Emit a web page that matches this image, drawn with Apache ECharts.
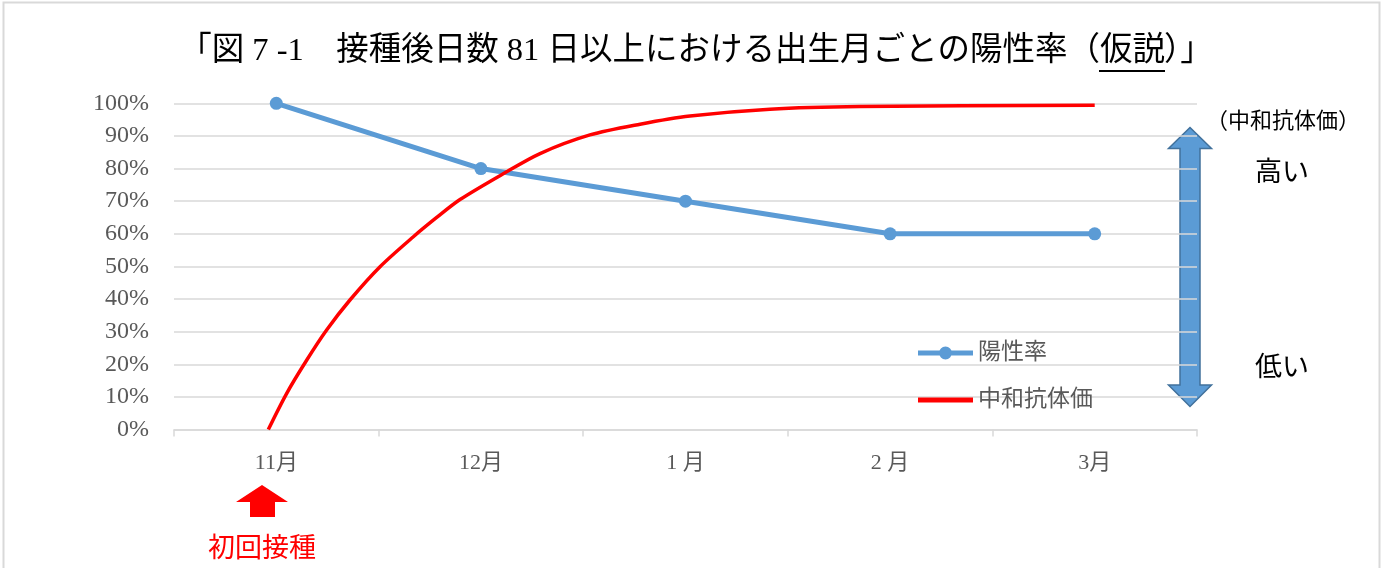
<!DOCTYPE html>
<html>
<head>
<meta charset="utf-8">
<script src="https://cdn.jsdelivr.net/npm/echarts@6/dist/echarts.min.js"></script>
<style>
  html, body { margin: 0; padding: 0; background: #ffffff; }
  #chart { width: 1384px; height: 568px; }
</style>
</head>
<body>
<div id="chart"></div>
<script>
// Birth-month categories along the horizontal axis
const months = ['11月', '12月', '1 月', '2 月', '3月'];
// Positive rate per birth month (%)
const positiveRate = [100, 80, 70, 60, 60];
// Neutralising antibody curve: position in month units (0 = 11月) and level (%)
const antibodyPos = [-0.039, 0.051, 0.149, 0.246, 0.360, 0.507, 0.670, 0.784, 0.898, 1.109, 1.289, 1.533, 1.778, 2.022, 2.413, 2.853, 4.0];
const antibodyLevel = [0, 11.1, 21.3, 30.5, 39.7, 49.9, 59.1, 65.0, 70.5, 78.4, 84.6, 90.3, 93.6, 96.1, 98.2, 99.0, 99.4];

const titleLeft = '「図 7 -1　接種後日数 81 日以上における出生月ごとの陽性率（';
const titleMid = '仮説';
const titleRight = '）」';

const FONT = "'Liberation Serif', 'Noto Sans CJK JP', serif";
const BLUE = '#5B9BD5';
const RED = '#FF0000';
const GRID = '#D9D9D9';
const LABEL = '#595959';

// legend icons: thick line with a dot, and a plain thick line
const ICON_DOT_LINE = 'path://M0,4 L55,4 L55,9 L0,9 Z M27.5,0 A6.5,6.5 0 1 1 27.49,0 Z';
const ICON_LINE = 'path://M0,0 L55,0 L55,5 L0,5 Z';

const chart = echarts.init(document.getElementById('chart'), null, { renderer: 'canvas' });

const antibodyData = antibodyPos.map((p, i) => [p, antibodyLevel[i]]);

chart.setOption({
  animation: false,
  backgroundColor: '#ffffff',
  grid: { left: 174, right: 187, top: 103.3, bottom: 138.5, containLabel: false },
  xAxis: [
    {
      type: 'category',
      data: months,
      boundaryGap: true,
      axisLine: { show: true, lineStyle: { color: GRID, width: 1.5 } },
      axisTick: { show: true, length: 7, lineStyle: { color: GRID, width: 1.5 } },
      axisLabel: { color: LABEL, fontFamily: FONT, fontSize: 22, margin: 23 },
      splitLine: { show: false }
    },
    {
      type: 'value',
      min: -0.5,
      max: 4.5,
      show: false
    }
  ],
  yAxis: {
    type: 'value',
    min: 0,
    max: 100,
    interval: 10,
    axisLine: { show: false },
    axisTick: { show: false },
    axisLabel: { color: LABEL, fontFamily: FONT, fontSize: 24, margin: 25, formatter: '{value}%' },
    splitLine: { lineStyle: { color: GRID, width: 1.5 } }
  },
  legend: {
    orient: 'vertical',
    left: 913,
    top: 336,
    itemWidth: 55,
    itemHeight: 13,
    itemGap: 23,
    textStyle: { color: LABEL, fontFamily: FONT, fontSize: 23, lineHeight: 24 },
    data: [
      { name: '陽性率', icon: ICON_DOT_LINE, itemStyle: { color: BLUE } },
      { name: '中和抗体価', icon: ICON_LINE, itemStyle: { color: RED } }
    ]
  },
  series: [
    {
      name: '陽性率',
      type: 'line',
      data: positiveRate,
      symbol: 'circle',
      symbolSize: 13,
      lineStyle: { color: BLUE, width: 5 },
      itemStyle: { color: BLUE }
    },
    {
      name: '中和抗体価',
      type: 'line',
      xAxisIndex: 1,
      data: antibodyData,
      smooth: 0.3,
      showSymbol: false,
      symbol: 'none',
      lineStyle: { color: RED, width: 3.5, cap: 'butt' },
      itemStyle: { color: RED }
    }
  ],
  graphic: [
    // outer frame
    {
      type: 'rect',
      shape: { x: 3.5, y: 2.5, width: 1376, height: 620 },
      style: { fill: 'none', stroke: '#D9D9D9', lineWidth: 2 },
      silent: true
    },
    // title
    {
      type: 'text',
      style: { text: titleLeft, x: 1100, y: 51, align: 'right', verticalAlign: 'middle', font: '32.5px ' + FONT, fill: '#000000' }
    },
    {
      type: 'text',
      style: { text: titleMid, x: 1100, y: 51, align: 'left', verticalAlign: 'middle', font: '32.5px ' + FONT, fill: '#000000' }
    },
    {
      type: 'text',
      style: { text: titleRight, x: 1164, y: 51, align: 'left', verticalAlign: 'middle', font: '32.5px ' + FONT, fill: '#000000' }
    },
    {
      type: 'line',
      shape: { x1: 1099, y1: 71, x2: 1165, y2: 71 },
      style: { stroke: '#000000', lineWidth: 2 }
    },
    // double-headed arrow for antibody level
    {
      type: 'polygon',
      shape: {
        points: [
          [1190, 127.5], [1211.5, 148.5], [1200, 148.5], [1200, 385], [1211.5, 385],
          [1190, 406.5], [1168.5, 385], [1180, 385], [1180, 148.5], [1168.5, 148.5]
        ]
      },
      style: { fill: BLUE, stroke: '#41719C', lineWidth: 1.5 }
    },
    {
      type: 'text',
      style: { text: '（中和抗体価）', x: 1206, y: 122, align: 'left', verticalAlign: 'middle', font: '22px ' + FONT, fill: '#000000' }
    },
    {
      type: 'text',
      style: { text: '高い', x: 1255, y: 174, align: 'left', verticalAlign: 'middle', font: '27px ' + FONT, fill: '#000000' }
    },
    {
      type: 'text',
      style: { text: '低い', x: 1255, y: 369, align: 'left', verticalAlign: 'middle', font: '27px ' + FONT, fill: '#000000' }
    },
    // first-dose marker
    {
      type: 'polygon',
      shape: {
        points: [
          [262, 485], [288, 502], [275, 502], [275, 517], [250, 517], [250, 502], [236, 502]
        ]
      },
      style: { fill: RED }
    },
    {
      type: 'text',
      style: { text: '初回接種', x: 262, y: 550, align: 'center', verticalAlign: 'middle', font: '27px ' + FONT, fill: RED }
    }
  ]
});
</script>
</body>
</html>
